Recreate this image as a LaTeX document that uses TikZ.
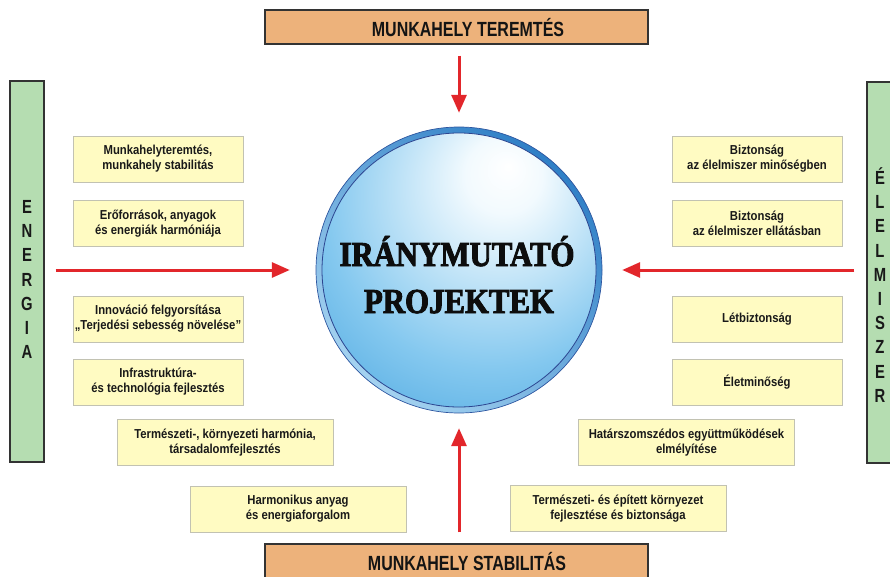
\documentclass[tikz,border=0pt]{standalone}
\usepackage{fontspec}
\setmainfont{Liberation Sans}
\newfontfamily\labfont[FakeStretch=0.87]{Liberation Sans}
\newfontfamily\headfont[FakeStretch=0.78]{Liberation Sans}
\newfontfamily\orbfont[FakeStretch=0.88,FakeBold=2.6]{Liberation Serif}
\usetikzlibrary{arrows.meta}

\definecolor{headfill}{HTML}{EDB27B}
\definecolor{barfill}{HTML}{B5DDB1}
\definecolor{notefill}{HTML}{FFFBC2}
\definecolor{noteline}{HTML}{C2C2B2}
\definecolor{frameline}{HTML}{333333}
\definecolor{flowred}{HTML}{E2262B}
\definecolor{orbedge}{HTML}{2C4590}
\definecolor{ringdark}{HTML}{2F7FC6}
\definecolor{ringlight}{HTML}{A4D2F0}
\definecolor{orbA}{HTML}{F2FAFE}
\definecolor{orbB}{HTML}{84C8EF}
\definecolor{orbC}{HTML}{3298D9}

% soft highlight sitting above and right of the sphere centre
\pgfdeclareradialshading{orbglow}{\pgfpoint{9bp}{19bp}}{%
  color(0bp)=(white); color(7bp)=(orbA); color(30bp)=(orbB);
  color(52bp)=(orbC); color(80bp)=(orbC)}

\tikzset{
  headbox/.style={draw=frameline, line width=1.2pt, fill=headfill,
    minimum width=383pt, minimum height=34pt, inner sep=0pt},
  headtext/.style={font={\headfont\bfseries\fontsize{20.5}{24}\selectfont},
    text=black!92, inner sep=0pt},
  sidebar/.style={draw=frameline, line width=1.2pt, fill=barfill,
    minimum width=34pt, minimum height=381pt, inner sep=0pt},
  sidetext/.style={font={\headfont\bfseries\fontsize{19}{24.2}\selectfont},
    text=black!90, align=center, inner sep=0pt},
  note/.style={draw=noteline, line width=0.9pt, fill=notefill,
    minimum width=170pt, minimum height=46pt, inner sep=1pt, align=center,
    font={\labfont\bfseries\fontsize{13}{15}\selectfont}, text=black!90},
  widenote/.style={note, minimum width=216pt},
  orbtext/.style={font={\orbfont\bfseries\fontsize{35}{40}\selectfont},
    text=black!95, inner sep=0pt, anchor=base},
  flow/.style={draw=flowred, line width=3pt,
    -{Triangle[length=18pt, width=15pt]}},
}

\begin{document}
\begin{tikzpicture}[x=1pt, y=-1pt]
\useasboundingbox (0,0) rectangle (890,577);

% frame boxes on the four sides
\node[headbox] (top) at (456.5,27) {};
\node[headtext, anchor=base] (toptext) at (468,37) {MUNKAHELY TEREMTÉS};
\node[headbox, minimum height=36pt] (bottom) at (456.5,562) {};
\node[headtext, anchor=base] (bottomtext) at (467,570) {MUNKAHELY STABILITÁS};

\node[sidebar] (leftbar) at (27,271.5) {};
\node[sidetext] (lefttext) at (27,279.5) {E\\N\\E\\R\\G\\I\\A};
\node[sidebar] (rightbar) at (884,272.5) {};
\node[sidetext] (righttext) at (880,285) {É\\L\\E\\L\\M\\I\\S\\Z\\E\\R};

% central sphere
\node[circle, minimum size=286pt, inner sep=0pt] (orb) at (459,270) {};
\shade[top color=ringdark, bottom color=ringlight, shading angle=-40]
  (orb.center) circle[radius=143pt];
\draw[orbedge!70!ringdark, line width=0.7pt] (orb.center) circle[radius=143pt];
\shade[shading=orbglow] (orb.center) circle[radius=137pt];
\draw[orbedge, line width=0.8pt] (orb.center) circle[radius=137pt];
\node[orbtext] (orbline1) at (457,266) {IRÁNYMUTATÓ};
\node[orbtext] (orbline2) at (459,313) {PROJEKTEK};

% notes on the left
\node[note] (l1) at (158,159) {Munkahelyteremtés,\\munkahely stabilitás};
\node[note] (l2) at (158,223.5) {Erőforrások, anyagok\\és energiák harmóniája};
\node[note] (l3) at (158,319) {Innováció felgyorsítása\\„Terjedési sebesség növelése”};
\node[note] (l4) at (158,382) {Infrastruktúra-\\és technológia fejlesztés};
\node[widenote] (l5) at (225,442.5) {Természeti-, környezeti harmónia,\\társadalomfejlesztés};
\node[widenote] (l6) at (298,509) {Harmonikus anyag\\és energiaforgalom};

% notes on the right
\node[note] (r1) at (757,159) {Biztonság\\az élelmiszer minőségben};
\node[note] (r2) at (757,223.5) {Biztonság\\az élelmiszer ellátásban};
\node[note] (r3) at (757,319) {Létbiztonság};
\node[note] (r4) at (757,382) {Életminőség};
\node[widenote] (r5) at (686.5,442.5) {Határszomszédos együttműködések\\elmélyítése};
\node[widenote] (r6) at (618,508.5) {Természeti- és épített környezet\\fejlesztése és biztonsága};

% arrows converging on the sphere
\draw[flow, shorten <=11pt, shorten >=14pt] (top.south -| orb) -- (orb.north);
\draw[flow, shorten <=11pt, shorten >=15pt] (bottom.north -| orb) -- (orb.south);
\draw[flow, shorten <=11pt, shorten >=26pt] (leftbar.east |- orb) -- (orb.west);
\draw[flow, shorten <=12pt, shorten >=20pt] (rightbar.west |- orb) -- (orb.east);
\end{tikzpicture}
\end{document}
